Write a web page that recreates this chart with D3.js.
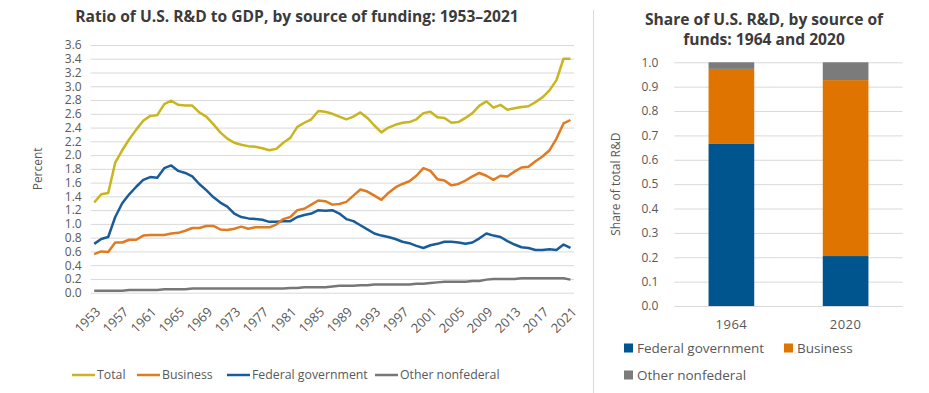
<!DOCTYPE html>
<html>
<head>
<meta charset="utf-8">
<script src="https://cdn.jsdelivr.net/npm/d3@7"></script>
<style>
	body { margin: 0; background: #fff; }
	svg { font-family: "Open Sans", sans-serif; }
	.title { font-weight: bold; fill: #3b3b3b; font-size: 15.6px; }
	.tick text { fill: #595959; }
	.grid line { stroke: #d9d9d9; }
</style>
</head>
<body>
<svg id="chart" width="929" height="393"></svg>
<script>
// years and series for the ratio chart
var years = d3.range(1953, 2022);

var total = [1.31, 1.43, 1.45, 1.89, 2.07, 2.23, 2.37, 2.50, 2.57, 2.58,
	2.74, 2.79, 2.73, 2.72, 2.72, 2.62, 2.56, 2.45, 2.33, 2.24,
	2.18, 2.15, 2.13, 2.12, 2.10, 2.07, 2.09, 2.18, 2.25, 2.41,
	2.47, 2.52, 2.64, 2.63, 2.60, 2.56, 2.52, 2.56, 2.62, 2.54,
	2.43, 2.33, 2.40, 2.44, 2.47, 2.48, 2.52, 2.61, 2.63, 2.55,
	2.54, 2.47, 2.48, 2.54, 2.61, 2.72, 2.78, 2.69, 2.73, 2.66,
	2.68, 2.70, 2.71, 2.77, 2.84, 2.94, 3.09, 3.40, 3.40];

var business = [0.56, 0.60, 0.59, 0.73, 0.73, 0.77, 0.77, 0.83, 0.84, 0.84,
	0.84, 0.86, 0.87, 0.90, 0.94, 0.94, 0.97, 0.97, 0.92, 0.91,
	0.93, 0.96, 0.93, 0.95, 0.95, 0.95, 0.99, 1.07, 1.10, 1.20,
	1.22, 1.28, 1.34, 1.33, 1.28, 1.29, 1.32, 1.41, 1.50, 1.47,
	1.41, 1.35, 1.45, 1.53, 1.58, 1.62, 1.70, 1.81, 1.77, 1.65,
	1.63, 1.56, 1.58, 1.63, 1.69, 1.74, 1.70, 1.64, 1.70, 1.69,
	1.76, 1.82, 1.83, 1.91, 1.98, 2.07, 2.24, 2.46, 2.51];

var federal = [0.71, 0.78, 0.81, 1.10, 1.30, 1.43, 1.54, 1.64, 1.68, 1.67,
	1.81, 1.85, 1.77, 1.74, 1.69, 1.58, 1.49, 1.39, 1.31, 1.25,
	1.15, 1.10, 1.08, 1.07, 1.06, 1.03, 1.03, 1.04, 1.04, 1.10,
	1.13, 1.15, 1.20, 1.19, 1.20, 1.15, 1.07, 1.04, 0.98, 0.92,
	0.86, 0.83, 0.81, 0.78, 0.74, 0.72, 0.68, 0.65, 0.69, 0.71,
	0.74, 0.74, 0.73, 0.71, 0.73, 0.79, 0.86, 0.83, 0.81, 0.75,
	0.70, 0.66, 0.65, 0.62, 0.62, 0.63, 0.62, 0.70, 0.65];

var otherNonfed = [0.03, 0.03, 0.03, 0.03, 0.03, 0.04, 0.04, 0.04, 0.04, 0.04,
	0.05, 0.05, 0.05, 0.05, 0.06, 0.06, 0.06, 0.06, 0.06, 0.06,
	0.06, 0.06, 0.06, 0.06, 0.06, 0.06, 0.06, 0.06, 0.07, 0.07,
	0.08, 0.08, 0.08, 0.08, 0.09, 0.10, 0.10, 0.10, 0.11, 0.11,
	0.12, 0.12, 0.12, 0.12, 0.12, 0.12, 0.13, 0.13, 0.14, 0.15,
	0.16, 0.16, 0.16, 0.16, 0.17, 0.17, 0.19, 0.20, 0.20, 0.20,
	0.20, 0.21, 0.21, 0.21, 0.21, 0.21, 0.21, 0.21, 0.19];

var lineNames = ["Total", "Business", "Federal government", "Other nonfederal"];
var lineColors = ["#c9b51f", "#e07b22", "#1a5c99", "#777777"];

// share chart data
var shareYears = ["1964", "2020"];
var shareFederal = [0.665, 0.205];
var shareBusiness = [0.308, 0.722];
var shareOther = [0.027, 0.073];
var shareNames = ["Federal government", "Business", "Other nonfederal"];
var shareColors = ["#00558f", "#e07400", "#7b7b7b"];

var svg = d3.select("#chart");

// ---------- left chart: lines ----------
var left = {x0: 90.7, x1: 574, y0: 292.7, y1: 45};

var x = d3.scaleBand()
	.domain(years)
	.range([left.x0, left.x1]);

var y = d3.scaleLinear()
	.domain([0, 3.6])
	.range([left.y0, left.y1]);

svg.append("text")
	.attr("class", "title")
	.attr("x", 297)
	.attr("y", 22)
	.attr("text-anchor", "middle")
	.text("Ratio of U.S. R\u0026D to GDP, by source of funding: 1953\u20132021");

// gridlines
svg.append("g")
	.attr("class", "grid")
	.attr("transform", "translate(" + left.x0 + ",0)")
	.call(d3.axisLeft(y).tickValues(d3.range(0, 3.61, 0.2)).tickSize(-(left.x1 - left.x0)).tickFormat(""))
	.call(function(g) { g.select(".domain").remove(); });

// y axis labels
svg.append("g")
	.attr("transform", "translate(" + (left.x0 - 6) + ",0)")
	.call(d3.axisLeft(y).tickValues(d3.range(0, 3.61, 0.2)).tickSize(0).tickFormat(d3.format(".1f")))
	.call(function(g) {
		g.select(".domain").remove();
		g.selectAll("text").attr("font-size", 12).attr("font-family", "Open Sans");
	});

svg.append("text")
	.attr("transform", "translate(42," + ((left.y0 + left.y1) / 2) + ") rotate(-90)")
	.attr("text-anchor", "middle")
	.attr("font-size", 12)
	.attr("fill", "#595959")
	.text("Percent");

// x axis, every fourth year, rotated
var xAxis = svg.append("g")
	.attr("transform", "translate(0," + left.y0 + ")")
	.call(d3.axisBottom(x).tickValues(years.filter(function(d) { return (d - 1953) % 4 == 0; })).tickSize(0))
	.call(function(g) { g.select(".domain").remove(); });

xAxis.selectAll("text")
	.attr("font-size", 13)
	.attr("font-family", "Open Sans")
	.attr("text-anchor", "end")
	.attr("dy", 0)
	.attr("y", 0)
	.attr("transform", "translate(7,20) rotate(-45)");

var series = [total, business, federal, otherNonfed];

var line = d3.line()
	.x(function(d, i) { return x(years[i]) + x.bandwidth() / 2; })
	.y(function(d) { return y(d); });

svg.append("g").selectAll("path")
	.data(series.slice().reverse())
	.enter().append("path")
		.attr("d", line)
		.attr("fill", "none")
		.attr("stroke-width", 2.5)
		.attr("stroke-linejoin", "round")
		.attr("stroke", function(d, i) { return lineColors[3 - i]; });

// legend for lines
var legendX = [72, 137, 227, 375];
var lineLegend = svg.append("g").selectAll("g")
	.data(lineNames)
	.enter().append("g")
		.attr("transform", function(d, i) { return "translate(" + legendX[i] + ",375)"; });

lineLegend.append("line")
	.attr("x1", 0).attr("x2", 23)
	.attr("stroke-width", 2.5)
	.attr("stroke", function(d, i) { return lineColors[i]; });

lineLegend.append("text")
	.attr("x", 25)
	.attr("dy", "0.35em")
	.attr("font-size", 12.3)
	.attr("fill", "#595959")
	.text(function(d) { return d; });

// divider
svg.append("line")
	.attr("x1", 593.5).attr("x2", 593.5)
	.attr("y1", 10).attr("y2", 393)
	.attr("stroke", "#d9d9d9");

// ---------- right chart: stacked bars ----------
var right = {x0: 674.3, x1: 902.7, y0: 306, y1: 62.3};

var xb = d3.scaleBand()
	.domain(shareYears)
	.range([right.x0, right.x1])
	.paddingInner(0.6)
	.paddingOuter(0.3);

var yb = d3.scaleLinear()
	.domain([0, 1])
	.range([right.y0, right.y1]);

var titleLines = ["Share of U.S. R\u0026D, by source of", "funds: 1964 and 2020"];
svg.append("text")
	.attr("class", "title")
	.attr("text-anchor", "middle")
	.selectAll("tspan")
	.data(titleLines)
	.enter().append("tspan")
		.attr("x", 764)
		.attr("y", function(d, i) { return 25 + i * 20; })
		.text(function(d) { return d; });

svg.append("g")
	.attr("class", "grid")
	.attr("transform", "translate(" + right.x0 + ",0)")
	.call(d3.axisLeft(yb).tickValues(d3.range(0, 1.01, 0.1)).tickSize(-(right.x1 - right.x0)).tickFormat(""))
	.call(function(g) { g.select(".domain").remove(); });

svg.append("g")
	.attr("transform", "translate(" + (right.x0 - 13) + ",0)")
	.call(d3.axisLeft(yb).tickValues(d3.range(0, 1.01, 0.1)).tickSize(0).tickFormat(d3.format(".1f")))
	.call(function(g) {
		g.select(".domain").remove();
		g.selectAll("text").attr("font-size", 12).attr("font-family", "Open Sans");
	});

svg.append("text")
	.attr("transform", "translate(620," + ((right.y0 + right.y1) / 2) + ") rotate(-90)")
	.attr("text-anchor", "middle")
	.attr("font-size", 12)
	.attr("fill", "#595959")
	.text("Share of total R\u0026D");

svg.append("g")
	.attr("transform", "translate(0," + (right.y0 + 11) + ")")
	.call(d3.axisBottom(xb).tickSize(0))
	.call(function(g) {
		g.select(".domain").remove();
		g.selectAll("text").attr("font-size", 13).attr("font-family", "Open Sans").attr("letter-spacing", "0.5px");
	});

var stackRows = shareYears.map(function(yr, i) {
	return {year: yr, federal: shareFederal[i], business: shareBusiness[i], other: shareOther[i]};
});
var stack = d3.stack().keys(["federal", "business", "other"])(stackRows);

svg.append("g").selectAll("g")
	.data(stack)
	.enter().append("g")
		.attr("fill", function(d, i) { return shareColors[i]; })
	.selectAll("rect")
	.data(function(d) { return d; })
	.enter().append("rect")
		.attr("x", function(d) { return xb(d.data.year); })
		.attr("width", xb.bandwidth())
		.attr("y", function(d) { return yb(d[1]); })
		.attr("height", function(d) { return yb(d[0]) - yb(d[1]); });

// bar legend
var barLegendPos = [[624, 348], [784, 348], [624, 375]];
var barLegend = svg.append("g").selectAll("g")
	.data(shareNames)
	.enter().append("g")
		.attr("transform", function(d, i) { return "translate(" + barLegendPos[i][0] + "," + barLegendPos[i][1] + ")"; });

barLegend.append("rect")
	.attr("y", -4.5)
	.attr("width", 9)
	.attr("height", 9)
	.attr("fill", function(d, i) { return shareColors[i]; });

barLegend.append("text")
	.attr("x", 13)
	.attr("dy", "0.35em")
	.attr("font-size", 13.5)
	.attr("fill", "#595959")
	.text(function(d) { return d; });
</script>
</body>
</html>
